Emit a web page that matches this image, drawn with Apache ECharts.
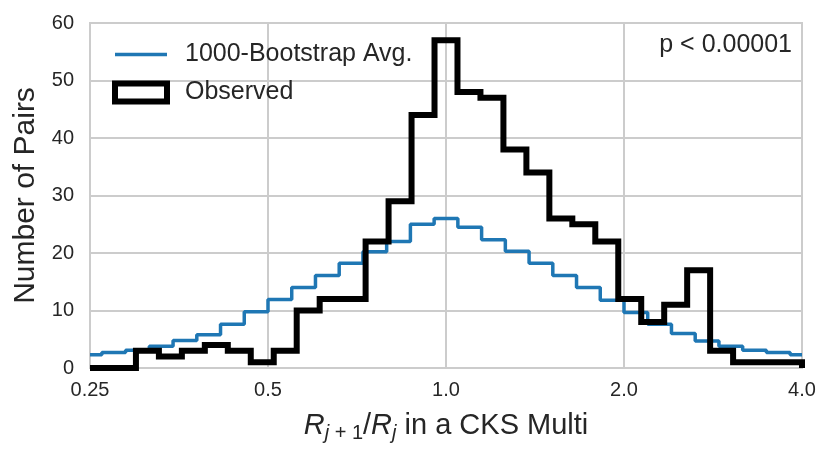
<!DOCTYPE html>
<html>
<head>
<meta charset="utf-8">
<script src="https://cdn.jsdelivr.net/npm/echarts@6/dist/echarts.min.js"></script>
<style>
  html, body { margin: 0; padding: 0; background: #fff; }
  #chart { width: 830px; height: 461px; }
</style>
</head>
<body>
<div id="chart"></div>
<script>
// ratio range of the histogram (log-spaced bins, like np.logspace)
var xMin = 0.25;
var xMax = 4.0;
var xTicks = [0.25, 0.5, 1.0, 2.0, 4.0];
var xTickLabels = ['0.25', '0.5', '1.0', '2.0', '4.0'];

// observed pair counts, 31 bins between 0.25 and 4.0
var observedCounts = [0, 0, 3, 2, 3, 4, 3, 1, 3, 10, 12, 12, 22, 29, 44, 57,
                      48, 47, 38, 34, 26, 25, 22, 12, 8, 11, 17, 3, 1, 1, 1];

// 1000-bootstrap average, sampled at 31 points between 0.25 and 4.0
var bootstrapAvg = [2.3, 2.7, 3.1, 3.8, 4.8, 5.8, 7.6, 9.8, 11.9, 14.0, 16.1,
                    18.2, 20.2, 22.0, 25.0, 26.0, 24.5, 22.3, 20.3, 18.2, 16.1,
                    14.0, 11.8, 9.65, 7.6, 6.0, 4.7, 3.8, 3.1, 2.7, 2.3];

var pText = 'p < 0.00001';

function logspace(a, b, n) {
    var out = [];
    var la = Math.log(a), lb = Math.log(b);
    for (var i = 0; i < n; i++) {
        out.push(Math.exp(la + (lb - la) * i / (n - 1)));
    }
    return out;
}

// bin edges for the observed histogram, sample points for the bootstrap curve
var obsEdges = logspace(xMin, xMax, observedCounts.length + 1);
var bootX = logspace(xMin, xMax, bootstrapAvg.length);

var obsData = [[obsEdges[0], 0]];
observedCounts.forEach(function (c, i) { obsData.push([obsEdges[i], c]); });
obsData.push([obsEdges[obsEdges.length - 1], observedCounts[observedCounts.length - 1]]);
obsData.push([obsEdges[obsEdges.length - 1], 0]);

var bootData = bootstrapAvg.map(function (v, i) { return [bootX[i], v]; });

var font = '"Liberation Sans", Arial, Helvetica, sans-serif';
var textColor = '#262626';
var blue = '#1f77b4';

var chart = echarts.init(document.getElementById('chart'));
chart.setOption({
    animation: false,
    backgroundColor: '#fff',
    textStyle: { fontFamily: font, color: textColor },
    grid: {
        left: 90, right: 28, top: 23, bottom: 93,
        show: true, borderColor: '#cccccc', borderWidth: 2,
        containLabel: false
    },
    title: {
        text: pText,
        right: 38, top: 33, padding: 0,
        textStyle: { fontFamily: font, fontSize: 25, fontWeight: 'normal', color: textColor }
    },
    legend: {
        orient: 'vertical',
        left: 112, top: 42, padding: 0,
        itemWidth: 52, itemHeight: 18, itemGap: 13,
        symbolKeepAspect: true,
        textStyle: { fontFamily: font, fontSize: 25, color: textColor, padding: [0, 0, 0, 13] },
        data: [
            { name: '1000-Bootstrap Avg.', icon: 'path://M0,0L52,0L52,3.5L0,3.5Z',
              itemStyle: { color: blue, borderWidth: 0 } },
            { name: 'Observed', icon: 'rect',
              itemStyle: { color: '#ffffff', borderColor: '#000000', borderWidth: 6 } }
        ]
    },
    xAxis: {
        type: 'log',
        logBase: 2,
        min: xMin, max: xMax,
        name: '{it|R}{sj|j}{sn| + 1}{n|/}{it|R}{sj|j}{n| in a CKS Multi}',
        nameLocation: 'middle',
        nameGap: 41,
        nameTextStyle: {
            rich: {
                it: { fontFamily: font, fontSize: 29, fontStyle: 'italic', color: textColor, lineHeight: 34 },
                n: { fontFamily: font, fontSize: 29, color: textColor, lineHeight: 34 },
                sj: { fontFamily: font, fontSize: 20, fontStyle: 'italic', color: textColor,
                      lineHeight: 20, verticalAlign: 'bottom' },
                sn: { fontFamily: font, fontSize: 20, color: textColor,
                      lineHeight: 20, verticalAlign: 'bottom' }
            }
        },
        axisLine: { show: false },
        axisTick: { show: false },
        axisLabel: {
            fontFamily: font, fontSize: 20, color: textColor, margin: 12,
            formatter: function (v) {
                var best = 0;
                xTicks.forEach(function (t, i) {
                    if (Math.abs(Math.log(t) - Math.log(v)) < Math.abs(Math.log(xTicks[best]) - Math.log(v))) best = i;
                });
                return xTickLabels[best];
            }
        },
        splitLine: { show: true, lineStyle: { color: '#cccccc', width: 2 } }
    },
    yAxis: {
        type: 'value',
        min: 0, max: 60, interval: 10,
        name: 'Number of Pairs',
        nameLocation: 'middle',
        nameGap: 45,
        nameTextStyle: { fontFamily: font, fontSize: 30, color: textColor },
        axisLine: { show: false },
        axisTick: { show: false },
        axisLabel: { fontFamily: font, fontSize: 20, color: textColor, margin: 16 },
        splitLine: { show: true, lineStyle: { color: '#cccccc', width: 2 } }
    },
    series: [
        {
            name: '1000-Bootstrap Avg.',
            type: 'line',
            step: 'middle',
            symbol: 'none',
            data: bootData,
            color: blue,
            lineStyle: { color: blue, width: 3.5 }
        },
        {
            name: 'Observed',
            type: 'line',
            step: 'end',
            symbol: 'none',
            data: obsData,
            color: '#000000',
            lineStyle: { color: '#000000', width: 6, join: 'miter' }
        }
    ]
});
</script>
</body>
</html>
